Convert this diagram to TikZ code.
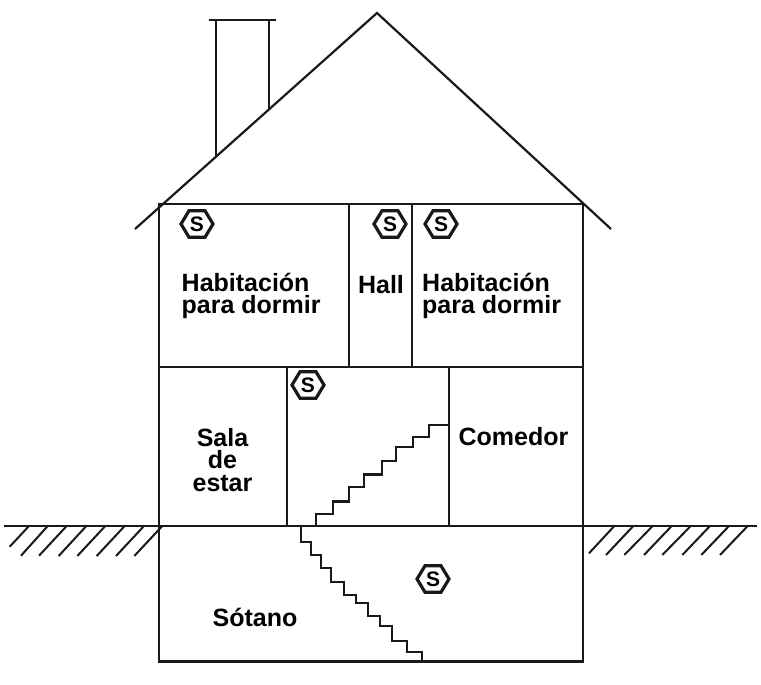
\documentclass[tikz,border=0pt]{standalone}
\usepackage{fontspec}
\setmainfont{Liberation Sans}
\tikzset{
  wall/.style={line width=2.2pt,draw=black!90,line join=miter},
  hatch/.style={line width=2pt,draw=black!90},
  lbl/.style={font=\bfseries\fontsize{25}{22.5}\selectfont,align=center,inner sep=0pt,text=black},
  sensor/.style={font=\bfseries\fontsize{21}{21}\selectfont,inner sep=0pt,text=black}
}
\begin{document}
\begin{tikzpicture}[x=1pt,y=-1pt]
\useasboundingbox (0,0) rectangle (761,685);
% roof and chimney
\draw[wall] (135,229) -- (377,13) -- (611,229);
\draw[wall] (216,156.7) -- (216,20);
\draw[wall] (269,109.4) -- (269,20);
\draw[wall] (209,20) -- (275.5,20);
% walls
\draw[wall] (159,204) rectangle (583,661.5);
\draw[wall] (159,367) -- (583,367);
\draw[wall] (4,526) -- (757,526);
\draw[wall] (349,204) -- (349,367);
\draw[wall] (412,204) -- (412,367);
\draw[wall] (287,367) -- (287,526);
\draw[wall] (449,367) -- (449,526);
% stairs
\draw[wall] (316,526) |- (333,514) |- (349,501.5) |- (364,487) |- (382,474.5) |- (396,461) |- (413,447) |- (429,437) |- (449,425);
\draw[wall] (301,526) |- (311,541.7) |- (321,555) |- (331,568) |- (344,581.7) |- (356,595) |- (368,603) |- (380,616) |- (392,626) |- (407,640.7) |- (422,651.7) -- (422,661);
% hatching
\foreach \xa/\ya/\xb in {9.7/546.7/29,21/555.7/47.7,39/555.7/66.7,58.7/556/86.3,77.3/556/105.3,96.7/556/124.7,116/556/144,134.3/556/162.3,
  589/553.3/614.3,606/555/633.3,624.3/555/652.7,644/555/671.7,662.3/555/690.7,682.3/555/710,701.3/555/729,720/555/747.7}
  \draw[hatch] (\xa,\ya) -- (\xb,526);
% sensors
\foreach \n/\cx/\cy in {s1/197/224,s2/390/224,s3/441/224,s4/308/385,s5/433/579}{
  \node[sensor] (\n) at (\cx,\cy) {S};
  \draw[line width=3.2pt,draw=black!90,shift={(\cx,\cy)}] (-16,0) -- (-8,-13.2) -- (8,-13.2) -- (16,0) -- (8,13.2) -- (-8,13.2) -- cycle;
}
% labels
\node[lbl,align=left,anchor=west] (r1) at (181.5,296) {Habitación\\para dormir};
\node[lbl] (hall) at (381,284.5) {Hall};
\node[lbl,align=left,anchor=west] (r2) at (422,296) {Habitación\\para dormir};
\node[lbl] (sala) at (222.5,460) {Sala\\de\\estar};
\node[lbl] (com) at (513.5,436.5) {Comedor};
\node[lbl] (sot) at (255,617.5) {Sótano};
\end{tikzpicture}
\end{document}
